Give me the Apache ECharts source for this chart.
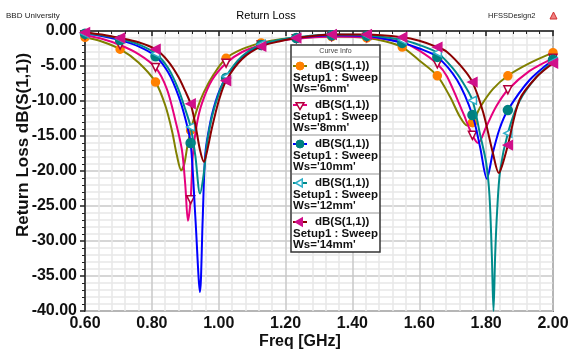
<!DOCTYPE html>
<html><head><meta charset="utf-8">
<script src="https://cdn.jsdelivr.net/npm/echarts/dist/echarts.min.js"></script>
<style>html,body{margin:0;padding:0;background:#fff}#c{width:568px;height:349px}</style>
</head><body><div id="c"></div>
<script>
// ---- data ----
const seriesNames = ["6mm", "8mm", "10mm", "12mm", "14mm"];
const markerFreqs = [0.600, 0.705, 0.811, 0.916, 1.022, 1.127, 1.232, 1.338, 1.443, 1.549, 1.654, 1.759, 1.865, 2.000];
const xTicks = [0.6, 0.8, 1.0, 1.2, 1.4, 1.6, 1.8, 2.0];
const yTicks = [0, -5, -10, -15, -20, -25, -30, -35, -40];

const freq6 = [0.600, 0.650, 0.705, 0.760, 0.811, 0.840, 0.860, 0.875, 0.888, 0.897, 0.905, 0.916, 0.935, 0.955, 0.985, 1.022, 1.070, 1.127, 1.180, 1.232, 1.338, 1.443, 1.500, 1.549, 1.600, 1.654, 1.692, 1.722, 1.743, 1.759, 1.782, 1.820, 1.865, 1.930, 2.000];
const db6   = [-0.9, -1.5, -2.6, -4.5, -7.3, -10.6, -14.2, -17.8, -19.9, -19.0, -16.8, -14.2, -11.2, -8.8, -6.2, -3.9, -2.6, -1.7, -1.2, -1.0, -0.8, -1.0, -1.5, -2.3, -4.2, -6.4, -9.4, -12.3, -13.5, -13.1, -10.9, -8.3, -6.4, -4.6, -3.1];

const freq8 = [0.600, 0.650, 0.705, 0.760, 0.811, 0.845, 0.870, 0.890, 0.900, 0.908, 0.916, 0.923, 0.935, 0.950, 0.980, 1.022, 1.070, 1.127, 1.180, 1.232, 1.338, 1.443, 1.549, 1.600, 1.654, 1.683, 1.731, 1.759, 1.776, 1.800, 1.830, 1.865, 1.930, 2.000];
const db8   = [-0.6, -1.1, -2.0, -3.3, -5.2, -8.3, -12.7, -17.0, -22.0, -27.1, -24.1, -17.5, -13.2, -10.3, -7.0, -4.6, -3.0, -2.0, -1.4, -1.1, -0.8, -0.9, -1.6, -2.8, -4.7, -6.5, -11.7, -14.9, -16.0, -13.7, -10.8, -8.4, -5.7, -3.9];

const freq10 = [0.600, 0.650, 0.705, 0.760, 0.811, 0.850, 0.880, 0.900, 0.916, 0.930, 0.944, 0.952, 0.960, 0.975, 0.990, 1.005, 1.022, 1.070, 1.127, 1.180, 1.232, 1.338, 1.443, 1.549, 1.600, 1.654, 1.713, 1.759, 1.782, 1.802, 1.820, 1.840, 1.865, 1.930, 2.000];
const db10   = [-0.4, -0.7, -1.3, -2.2, -3.6, -6.0, -9.3, -12.5, -16.0, -26.5, -37.3, -27.0, -17.5, -13.0, -10.2, -8.2, -6.7, -3.8, -2.0, -1.4, -1.0, -0.6, -0.7, -1.7, -2.5, -3.7, -7.0, -12.0, -16.6, -21.1, -17.4, -14.0, -11.3, -7.0, -4.1];

const freq12 = [0.600, 0.650, 0.705, 0.760, 0.811, 0.850, 0.880, 0.900, 0.916, 0.930, 0.944, 0.955, 0.965, 0.980, 1.000, 1.022, 1.070, 1.127, 1.180, 1.232, 1.338, 1.443, 1.549, 1.600, 1.654, 1.700, 1.731, 1.759, 1.782, 1.800, 1.810, 1.817, 1.822, 1.827, 1.833, 1.842, 1.865, 1.900, 1.950, 2.000];
const db12   = [-0.4, -0.6, -1.1, -1.9, -3.2, -5.4, -8.4, -11.2, -13.7, -17.8, -23.2, -20.5, -16.0, -12.2, -9.0, -6.5, -3.6, -1.9, -1.3, -0.9, -0.5, -0.6, -1.3, -2.0, -3.1, -5.3, -7.4, -9.9, -14.8, -18.8, -23.5, -32.0, -40.0, -32.0, -25.6, -19.9, -14.6, -10.0, -6.6, -4.4];

const freq14 = [0.600, 0.650, 0.705, 0.760, 0.811, 0.850, 0.880, 0.900, 0.916, 0.930, 0.944, 0.956, 0.965, 0.980, 1.000, 1.022, 1.070, 1.127, 1.180, 1.232, 1.338, 1.443, 1.549, 1.600, 1.654, 1.683, 1.730, 1.759, 1.791, 1.820, 1.838, 1.848, 1.865, 1.900, 1.950, 2.000];
const db14   = [-0.2, -0.5, -1.0, -1.6, -2.6, -4.4, -6.6, -8.6, -10.4, -13.3, -17.0, -18.7, -17.2, -13.8, -10.0, -7.1, -4.0, -2.2, -1.5, -1.0, -0.5, -0.5, -0.9, -1.4, -2.3, -3.0, -5.3, -7.3, -11.6, -17.4, -20.3, -19.2, -16.3, -9.8, -6.6, -4.6];

const freqs = [freq6, freq8, freq10, freq12, freq14];
const dbs = [db6, db8, db10, db12, db14];

// ---- styles ----
const lineColors = ["#808000", "#e6007e", "#0000ff", "#008b8b", "#8b0000"];
const markerStyles = [
  {symbol: "circle", rotate: 0, fill: "#ff8000", stroke: "#ff8000", size: 8},
  {symbol: "triangle", rotate: 180, fill: "#ffffff", stroke: "#b0003a", size: 8},
  {symbol: "circle", rotate: 0, fill: "#008080", stroke: "#008080", size: 9},
  {symbol: "triangle", rotate: 90, fill: "#ffffff", stroke: "#30b0c8", size: 8},
  {symbol: "triangle", rotate: 90, fill: "#d0108a", stroke: "#d0108a", size: 9}
];
const FONT = '"Liberation Sans", Arial, sans-serif';

function isMarker(f) { return markerFreqs.some(m => Math.abs(m - f) < 0.0015); }

const series = seriesNames.map((n, i) => ({
  name: n,
  type: "line",
  data: freqs[i].map((f, j) => [f, dbs[i][j]]),
  smooth: 0.3,
  showAllSymbol: true,
  symbol: (v) => isMarker(v[0]) ? markerStyles[i].symbol : "none",
  symbolSize: markerStyles[i].size,
  symbolRotate: markerStyles[i].rotate,
  lineStyle: {color: lineColors[i], width: 2},
  itemStyle: {color: markerStyles[i].fill, borderColor: markerStyles[i].stroke, borderWidth: 1.5},
  emphasis: {disabled: true},
  clip: true,
  z: 2 + i
}));

// ---- legend drawn as graphic ----
const lgX = 291, lgY = 45, lgW = 89, lgTitleH = 12, lgEntryH = 39;
const graphics = [];
graphics.push({type: "rect", z: 100, shape: {x: lgX, y: lgY, width: lgW, height: lgTitleH + lgEntryH * seriesNames.length},
  style: {fill: "#fff", stroke: "#333", lineWidth: 1.5}});
graphics.push({type: "text", z: 101, x: lgX + lgW / 2, y: lgY + 6,
  style: {text: "Curve Info", fontSize: 7, fontFamily: FONT, fill: "#444", align: "center", verticalAlign: "middle"}});
function triPoints(cx, cy, r, rot) {
  const pts = [];
  for (let k = 0; k < 3; k++) {
    const a = (-90 - rot + k * 120) * Math.PI / 180;
    pts.push([cx + r * Math.cos(a), cy + r * Math.sin(a)]);
  }
  return pts;
}
seriesNames.forEach((n, i) => {
  const top = lgY + lgTitleH + lgEntryH * i;
  const ly = top + 9;
  graphics.push({type: "line", z: 101, shape: {x1: lgX + 1, y1: top, x2: lgX + lgW - 1, y2: top}, style: {stroke: "#b8b8b8", lineWidth: 1.5}});
  graphics.push({type: "line", z: 102, shape: {x1: lgX + 2, y1: ly, x2: lgX + 16, y2: ly}, style: {stroke: lineColors[i], lineWidth: 2}});
  const ms = markerStyles[i];
  if (ms.symbol === "circle") {
    graphics.push({type: "circle", z: 103, shape: {cx: lgX + 9, cy: ly, r: 4}, style: {fill: ms.fill, stroke: ms.stroke, lineWidth: 1}});
  } else {
    graphics.push({type: "polygon", z: 103, shape: {points: triPoints(lgX + 9, ly, 4.5, ms.rotate)}, style: {fill: ms.fill, stroke: ms.stroke, lineWidth: 1.5}});
  }
  const ts = {fontSize: 11.5, fontWeight: "bold", fontFamily: FONT, fill: "#111", verticalAlign: "middle"};
  graphics.push({type: "text", z: 102, x: lgX + 24, y: ly, style: Object.assign({text: "dB(S(1,1))"}, ts)});
  graphics.push({type: "text", z: 102, x: lgX + 2, y: top + 20.7, style: Object.assign({text: "Setup1 : Sweep"}, ts)});
  graphics.push({type: "text", z: 102, x: lgX + 2, y: top + 31.7, style: Object.assign({text: "Ws='" + n + "'"}, ts)});
});
// header texts
graphics.push({type: "text", x: 6, y: 16, style: {text: "BBD University", fontSize: 8, fontFamily: FONT, fill: "#222", verticalAlign: "middle"}});
graphics.push({type: "text", x: 488, y: 16, style: {text: "HFSSDesign2", fontSize: 7.5, fontFamily: FONT, fill: "#222", verticalAlign: "middle"}});
graphics.push({type: "text", x: 266, y: 16, style: {text: "Return Loss", fontSize: 11, fontFamily: FONT, fill: "#000", align: "center", verticalAlign: "middle"}});
graphics.push({type: "polygon", shape: {points: [[550, 19], [553.5, 12], [557, 19]]}, style: {fill: "#f08080", stroke: "#d03030", lineWidth: 1}});

const chart = echarts.init(document.getElementById("c"), null, {renderer: "canvas"});
chart.setOption({
  animation: false,
  backgroundColor: "#fff",
  grid: {left: 85, right: 15, top: 31, bottom: 38, show: true, borderColor: "#808080", borderWidth: 2, backgroundColor: "#fff",
    containLabel: false, outerBoundsMode: "none"},
  xAxis: {
    type: "value", min: xTicks[0], max: xTicks[xTicks.length - 1], interval: 0.2,
    name: "Freq [GHz]", nameLocation: "middle", nameGap: 23, nameMoveOverlap: false,
    nameTextStyle: {fontSize: 16, fontWeight: "bold", fontFamily: FONT, color: "#111", padding: [0, 38, 0, 0]},
    axisLine: {lineStyle: {color: "#222", width: 1.5}},
    axisTick: {length: 5, lineStyle: {color: "#222", width: 1.5}},
    minorTick: {show: true, splitNumber: 5, length: 3, lineStyle: {color: "#222", width: 1}},
    axisLabel: {fontSize: 16, fontWeight: "bold", fontFamily: FONT, color: "#111", margin: 5, formatter: v => v.toFixed(2)},
    splitLine: {show: true, lineStyle: {color: "#c8c8c8", width: 1.5}},
    minorSplitLine: {show: true, lineStyle: {color: "#e8e8e8", width: 1.5}}
  },
  yAxis: {
    type: "value", min: yTicks[yTicks.length - 1], max: yTicks[0], interval: 5,
    name: "Return Loss dB(S(1,1))", nameLocation: "middle", nameGap: 53, nameMoveOverlap: false,
    nameTextStyle: {fontSize: 17, fontWeight: "bold", fontFamily: FONT, color: "#111", padding: [0, 0, 0, 52]},
    axisLine: {show: true, lineStyle: {color: "#222", width: 1.5}},
    axisTick: {show: true, length: 5, lineStyle: {color: "#222", width: 1.5}},
    minorTick: {show: true, splitNumber: 5, length: 3, lineStyle: {color: "#222", width: 1}},
    axisLabel: {fontSize: 16, fontWeight: "bold", fontFamily: FONT, color: "#111", margin: 8, formatter: v => v.toFixed(2)},
    splitLine: {show: true, lineStyle: {color: "#c8c8c8", width: 1.5}},
    minorSplitLine: {show: true, lineStyle: {color: "#e8e8e8", width: 1.5}}
  },
  series: series,
  graphic: graphics
});
</script>
</body></html>
